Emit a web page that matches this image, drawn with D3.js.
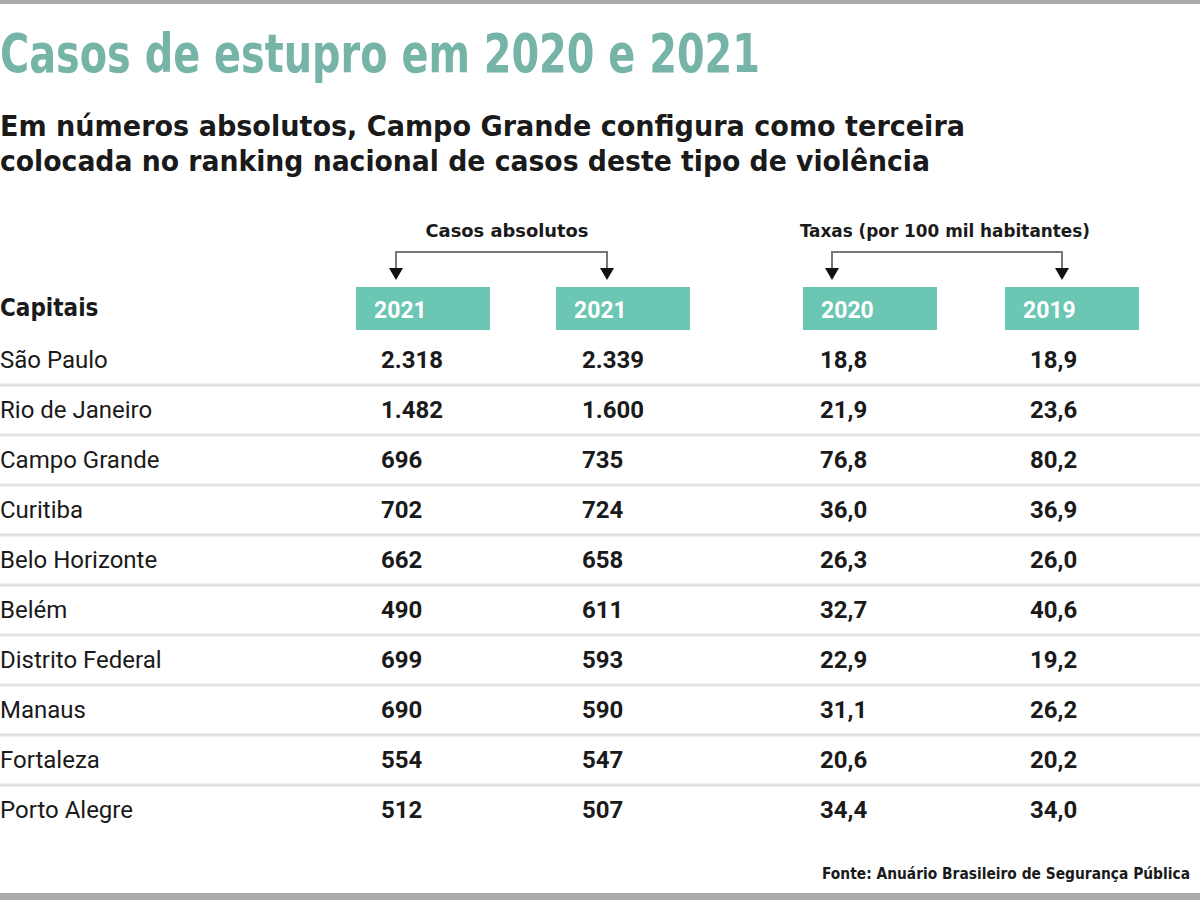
<!DOCTYPE html>
<html><head><meta charset="utf-8">
<script src="https://cdn.jsdelivr.net/npm/d3@7"></script>
<style>html,body{margin:0;padding:0;background:#fff;overflow:hidden}</style>
</head><body>
<script>
const title = "Casos de estupro em 2020 e 2021";
const subtitleLines = ["Em números absolutos, Campo Grande configura como terceira",
  "colocada no ranking nacional de casos deste tipo de violência"];
const source = "Fonte: Anuário Brasileiro de Segurança Pública";
const rowHeader = "Capitais";
const columnHeaders = ["2021", "2021", "2020", "2019"];
const groupLabels = ["Casos absolutos", "Taxas (por 100 mil habitantes)"];
const cities = ["São Paulo","Rio de Janeiro","Campo Grande","Curitiba","Belo Horizonte","Belém","Distrito Federal","Manaus","Fortaleza","Porto Alegre"];
const casesA = ["2.318","1.482","696","702","662","490","699","690","554","512"];
const casesB = ["2.339","1.600","735","724","658","611","593","590","547","507"];
const rates2020 = ["18,8","21,9","76,8","36,0","26,3","32,7","22,9","31,1","20,6","34,4"];
const rates2019 = ["18,9","23,6","80,2","36,9","26,0","40,6","19,2","26,2","20,2","34,0"];

const W = 1200, H = 900;
const teal = "#6cc6b4";
const svg = d3.select("body").append("svg").attr("width", W).attr("height", H);
svg.append("rect").attr("width", W).attr("height", H).attr("fill", "#fff");
// top/bottom gray bars
svg.append("rect").attr("x",0).attr("y",0).attr("width",W).attr("height",4).attr("fill","#a9a9a9");
svg.append("rect").attr("x",0).attr("y",893).attr("width",W).attr("height",7).attr("fill","#a9a9a9");

const narrow = "'Liberation Sans Narrow','DejaVu Sans Condensed',sans-serif";
svg.append("text").attr("x",0).attr("y",72).text(title)
  .attr("font-family", narrow).attr("font-weight","bold").attr("font-size",54)
  .attr("fill","#75b4a6").attr("textLength",760).attr("lengthAdjust","spacingAndGlyphs");
svg.selectAll("text.sub").data(subtitleLines).join("text").attr("class","sub")
  .attr("x",0).attr("y",(d,i)=>136+i*35).text(d=>d)
  .attr("font-family", narrow).attr("font-weight","bold").attr("font-size",29)
  .attr("fill","#1a1a1a").attr("textLength",(d,i)=>[965,930][i]).attr("lengthAdjust","spacingAndGlyphs");

// scales
const y = d3.scaleBand().domain(cities).range([334, 834]).padding(0);
const cols = d3.scaleOrdinal().domain([0,1,2,3]).range([356, 556, 803, 1005]);
const boxW = 134;

// row separators
svg.selectAll("line.sep").data(cities.slice(0,-1)).join("line").attr("class","sep")
  .attr("x1",0).attr("x2",W).attr("y1",d=>y(d)+y.bandwidth()+1).attr("y2",d=>y(d)+y.bandwidth()+1)
  .attr("stroke","#e2e2e2").attr("stroke-width",3);

// header boxes
const hdr = svg.selectAll("g.hdr").data(columnHeaders).join("g").attr("class","hdr")
  .attr("transform",(d,i)=>`translate(${cols(i)},287)`);
hdr.append("rect").attr("width",boxW).attr("height",43).attr("fill",teal);
hdr.append("text").attr("x",18).attr("y",31).text(d=>d)
  .attr("font-family","Roboto,sans-serif").attr("font-weight","bold").attr("font-size",23).attr("fill","#fff");

svg.append("text").attr("x",0).attr("y",316).text(rowHeader)
  .attr("font-family", narrow).attr("font-weight","bold").attr("font-size",24).attr("fill","#1a1a1a");

// group brackets
const groups = [{label: groupLabels[0], a: 396, b: 607, cx: 507, w: 163},
                {label: groupLabels[1], a: 832, b: 1062, cx: 945, w: 290}];
const g = svg.selectAll("g.grp").data(groups).join("g").attr("class","grp");
g.append("text").attr("x",d=>d.cx).attr("y",237).attr("text-anchor","middle").text(d=>d.label)
  .attr("font-family", narrow).attr("font-weight","bold").attr("font-size",17).attr("fill","#1a1a1a")
  .attr("textLength",d=>d.w).attr("lengthAdjust","spacingAndGlyphs");
g.append("path").attr("d",d=>`M${d.a},270V252H${d.b}V270`).attr("fill","none")
  .attr("stroke","#777").attr("stroke-width",2);
g.selectAll("path.arr").data(d=>[d.a,d.b]).join("path").attr("class","arr")
  .attr("d",x=>`M${x-7},268H${x+7}L${x},280Z`).attr("fill","#111");

// rows
const rows = svg.selectAll("g.row").data(cities).join("g").attr("class","row")
  .attr("transform",d=>`translate(0,${y(d)+y.bandwidth()/2})`);
rows.append("text").attr("x",0).attr("y",9).text(d=>d)
  .attr("font-family","Roboto,sans-serif").attr("font-size",24).attr("fill","#1a1a1a");
const colData = [casesA, casesB, rates2020, rates2019];
const numX = [381, 582, 820, 1030];
colData.forEach((arr, ci) => {
  rows.append("text").attr("x", numX[ci]).attr("y",9).text((d,i)=>arr[i])
    .attr("font-family","Roboto,sans-serif").attr("font-weight","bold").attr("font-size",24).attr("fill","#1a1a1a");
});

svg.append("text").attr("x",822).attr("y",879).text(source)
  .attr("font-family", narrow).attr("font-weight","bold").attr("font-size",15.5).attr("fill","#1a1a1a")
  .attr("textLength",368).attr("lengthAdjust","spacingAndGlyphs");
</script>
</body></html>
